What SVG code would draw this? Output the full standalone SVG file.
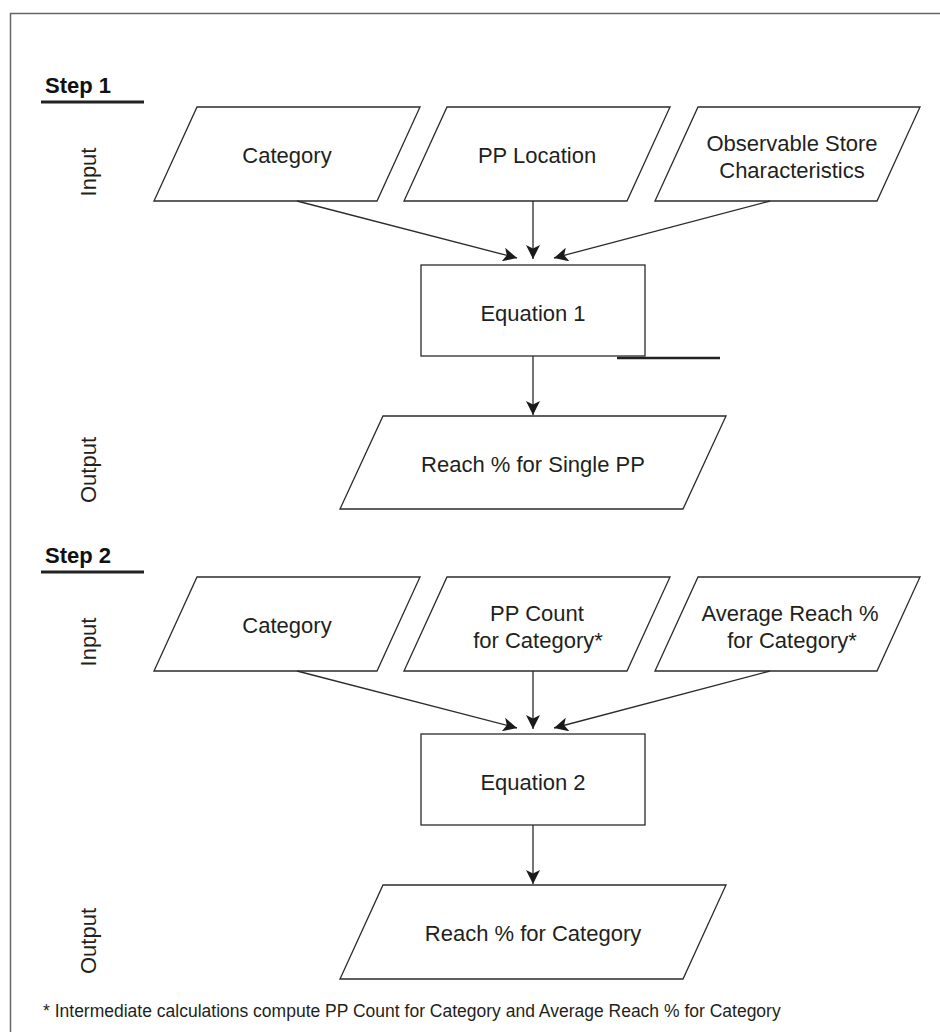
<svg xmlns="http://www.w3.org/2000/svg" width="940" height="1032" viewBox="0 0 940 1032">
<style>
.shape{fill:#fff;stroke:#2b2b2b;stroke-width:1.3}
.lbl{font-family:"Liberation Sans",Arial,sans-serif;font-size:22px;fill:#231f20;text-anchor:middle}
.side{font-family:"Liberation Sans",Arial,sans-serif;font-size:22px;fill:#231f20;text-anchor:middle}
.step{font-family:"Liberation Sans",Arial,sans-serif;font-size:22px;font-weight:bold;fill:#111}
.conn{stroke:#2b2b2b;stroke-width:1.3;fill:none;marker-end:url(#arr)}
.rule{stroke:#222;stroke-width:3}
</style>
<defs>
<marker id="arr" viewBox="0 0 14 14" refX="14" refY="7" markerWidth="14" markerHeight="14" markerUnits="userSpaceOnUse" orient="auto">
<path d="M0,0 L14,7 L0,14 L3.5,7 z" fill="#1a1a1a"/>
</marker>
</defs>
<rect width="940" height="1032" fill="#fff"/>
<path d="M10.5,1032 V13.5 H940" fill="none" stroke="#666" stroke-width="1.5"/>

<g id="step1-header">
<text class="step" x="45" y="93">Step 1</text>
<line class="rule" x1="41" y1="102" x2="144" y2="102"/>
</g>
<g id="step1-input-label"><text class="side" transform="translate(96,172) rotate(-90)">Input</text></g>
<g id="step1-output-label"><text class="side" transform="translate(96,470) rotate(-90)">Output</text></g>

<g id="s1-category">
<polygon class="shape" points="197,107 420,107 377,201 154,201"/>
<text class="lbl" x="287" y="163">Category</text>
</g>
<g id="s1-pplocation">
<polygon class="shape" points="447,107 670,107 627,201 404,201"/>
<text class="lbl" x="537" y="163">PP Location</text>
</g>
<g id="s1-observable">
<polygon class="shape" points="698,107 920,107 877,201 655,201"/>
<text class="lbl" x="792" y="151">Observable Store</text>
<text class="lbl" x="792" y="178">Characteristics</text>
</g>
<g id="s1-equation">
<rect class="shape" x="421" y="265" width="224" height="91"/>
<text class="lbl" x="533" y="321">Equation 1</text>
</g>
<g id="s1-output">
<polygon class="shape" points="383,416 726,416 683,509 340,509"/>
<text class="lbl" x="533" y="472">Reach % for Single PP</text>
</g>
<g id="stray-line"><line x1="617" y1="358" x2="720" y2="358" stroke="#222" stroke-width="2.5"/></g>

<g id="step2-header">
<text class="step" x="45" y="563">Step 2</text>
<line class="rule" x1="41" y1="572" x2="144" y2="572"/>
</g>
<g id="step2-input-label"><text class="side" transform="translate(96,642) rotate(-90)">Input</text></g>
<g id="step2-output-label"><text class="side" transform="translate(96,941) rotate(-90)">Output</text></g>

<g id="s2-category">
<polygon class="shape" points="197,577 420,577 377,671 154,671"/>
<text class="lbl" x="287" y="633">Category</text>
</g>
<g id="s2-ppcount">
<polygon class="shape" points="447,577 670,577 627,671 404,671"/>
<text class="lbl" x="537" y="621">PP Count</text>
<text class="lbl" x="538" y="648">for Category*</text>
</g>
<g id="s2-avgreach">
<polygon class="shape" points="698,577 920,577 877,671 655,671"/>
<text class="lbl" x="790" y="621">Average Reach %</text>
<text class="lbl" x="792" y="648">for Category*</text>
</g>
<g id="s2-equation">
<rect class="shape" x="421" y="734" width="224" height="91"/>
<text class="lbl" x="533" y="790">Equation 2</text>
</g>
<g id="s2-output">
<polygon class="shape" points="383,885 726,885 683,979 340,979"/>
<text class="lbl" x="533" y="941">Reach % for Category</text>
</g>

<g id="connectors">
<line class="conn" x1="297" y1="201" x2="517" y2="258"/>
<line class="conn" x1="533" y1="201" x2="533" y2="259"/>
<line class="conn" x1="770" y1="201" x2="554" y2="258"/>
<line class="conn" x1="533" y1="356" x2="533" y2="415"/>
<line class="conn" x1="297" y1="671" x2="517" y2="728"/>
<line class="conn" x1="533" y1="671" x2="533" y2="729"/>
<line class="conn" x1="770" y1="671" x2="554" y2="728"/>
<line class="conn" x1="533" y1="825" x2="533" y2="884"/>
</g>

<g id="footnote">
<text x="43" y="1017" font-family="'Liberation Sans',Arial,sans-serif" font-size="17.5" fill="#231f20">* Intermediate calculations compute PP Count for Category and Average Reach % for Category</text>
</g>
</svg>
